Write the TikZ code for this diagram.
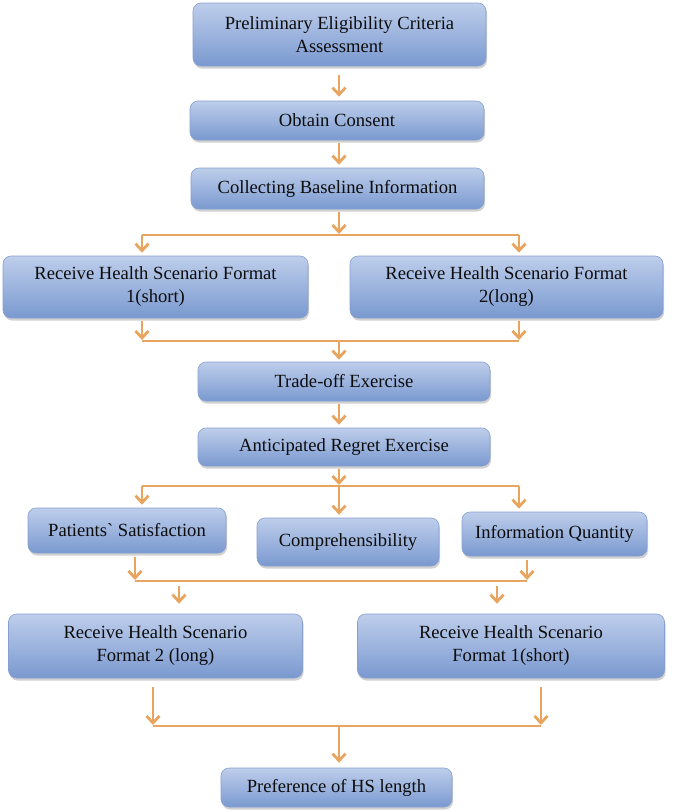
\documentclass[tikz,border=0pt]{standalone}
\usepackage{fontspec}
\setmainfont{Liberation Serif}[Ligatures=TeXOff]
\usetikzlibrary{arrows.meta,shadows}
\definecolor{arrc}{RGB}{233,165,95}
\definecolor{btop}{RGB}{190,206,235}
\definecolor{bbot}{RGB}{122,153,208}
\definecolor{bdraw}{RGB}{135,160,208}
\tikzset{
 box/.style={rectangle, rounded corners=8pt, top color=btop, bottom color=bbot, draw=bdraw, line width=0.6pt,
   drop shadow={opacity=0.3, shadow xshift=1pt, shadow yshift=-2.5pt, fill=black!60},
   align=center, font=\fontsize{18.6}{23}\selectfont, text=black!95, inner sep=0pt},
 conn/.style={draw=arrc, line width=2.8pt},
 arr/.style={conn, -{Straight Barb[length=7pt,width=13pt]}},
}
\begin{document}
\begin{tikzpicture}[x=1pt,y=-1pt]
\useasboundingbox (0,0) rectangle (675,812);
% boxes
\node[box, minimum width=293pt, minimum height=63pt] (b1) at (339.5,34.5) {Preliminary Eligibility Criteria\\Assessment};
\node[box, minimum width=294pt, minimum height=39pt] (b2) at (337,120.5) {Obtain Consent};
\node[box, minimum width=293pt, minimum height=41pt] (b3) at (337.5,188.5) {Collecting Baseline Information};
\node[box, minimum width=305pt, minimum height=62pt] (b4) at (155.5,287) {Receive Health Scenario Format\\1(short)};
\node[box, minimum width=313pt, minimum height=62pt] (b5) at (506.5,287) {Receive Health Scenario Format\\2(long)};
\node[box, minimum width=292pt, minimum height=39pt] (b6) at (344,381.5) {Trade-off Exercise};
\node[box, minimum width=292pt, minimum height=38pt] (b7) at (344,447) {Anticipated Regret Exercise};
\node[box, minimum width=198pt, minimum height=45pt] (b8) at (127,530.5) {Patients` Satisfaction};
\node[box, minimum width=182pt, minimum height=48pt] (b9) at (348,542) {Comprehensibility};
\node[box, minimum width=185pt, minimum height=44pt] (b10) at (554.5,534) {Information Quantity};
\node[box, minimum width=294pt, minimum height=64pt] (b11) at (155.5,646) {Receive Health Scenario\\Format 2 (long)};
\node[box, minimum width=307pt, minimum height=64pt] (b12) at (511,646) {Receive Health Scenario\\Format 1(short)};
\node[box, minimum width=231pt, minimum height=39pt] (b13) at (336.5,787.5) {Preference of HS length};
% helper coordinates
\coordinate (cx) at (339,0);
\coordinate (f1) at (339,235);
\coordinate (f1l) at (142,235);
\coordinate (f1r) at (519,235);
\coordinate (g1) at (339,341);
\coordinate (g1l) at (142,341);
\coordinate (g1r) at (519,341);
\coordinate (f2) at (339,486);
\coordinate (f2l) at (142,486);
\coordinate (f2r) at (519,486);
\coordinate (g2l) at (135,581);
\coordinate (g2r) at (527,581);
\coordinate (g2a) at (179,581);
\coordinate (g2b) at (497,581);
\coordinate (g3l) at (153,726);
\coordinate (g3r) at (541,726);
\coordinate (g3) at (339,726);
% top chain
\draw[arr, shorten <=9pt, shorten >=4pt] (b1.south -| cx) -- (b2.north -| cx);
\draw[arr, shorten <=3pt, shorten >=3pt] (b2.south -| cx) -- (b3.north -| cx);
% fork 1
\draw[arr, shorten <=3pt, shorten >=1pt] (b3.south -| cx) -- (f1);
\draw[conn] (f1l) -- (f1r);
\draw[arr, shorten >=3pt] (f1l) -- (b4.north -| f1l);
\draw[arr, shorten >=3pt] (f1r) -- (b5.north -| f1r);
% join 1
\draw[arr, shorten <=3pt, shorten >=1pt] (b4.south -| g1l) -- (g1l);
\draw[arr, shorten <=3pt, shorten >=1pt] (b5.south -| g1r) -- (g1r);
\draw[conn] (g1l) -- (g1r);
\draw[arr, shorten >=2pt] (g1) -- (b6.north -| g1);
\draw[arr, shorten <=3pt, shorten >=3pt] (b6.south -| cx) -- (b7.north -| cx);
% fork 2
\draw[arr, shorten <=3pt, shorten >=1pt] (b7.south -| f2) -- (f2);
\draw[conn] (f2l) -- (f2r);
\draw[arr, shorten >=3pt] (f2l) -- (b8.north -| f2l);
\draw[arr, shorten >=3pt] (f2) -- (b9.north -| f2);
\draw[arr, shorten >=3pt] (f2r) -- (b10.north -| f2r);
% join 2
\draw[arr, shorten <=4pt, shorten >=1pt] (b8.south -| g2l) -- (g2l);
\draw[arr, shorten <=4pt, shorten >=1pt] (b10.south -| g2r) -- (g2r);
\draw[conn] (g2l) -- (g2r);
\draw[arr, shorten <=5pt, shorten >=10pt] (g2a) -- (b11.north -| g2a);
\draw[arr, shorten <=5pt, shorten >=10pt] (g2b) -- (b12.north -| g2b);
% join 3
\draw[arr, shorten <=9pt, shorten >=1pt] (b11.south -| g3l) -- (g3l);
\draw[arr, shorten <=9pt, shorten >=1pt] (b12.south -| g3r) -- (g3r);
\draw[conn] (g3l) -- (g3r);
\draw[arr, shorten >=5pt] (g3) -- (b13.north -| g3);
\end{tikzpicture}
\end{document}
